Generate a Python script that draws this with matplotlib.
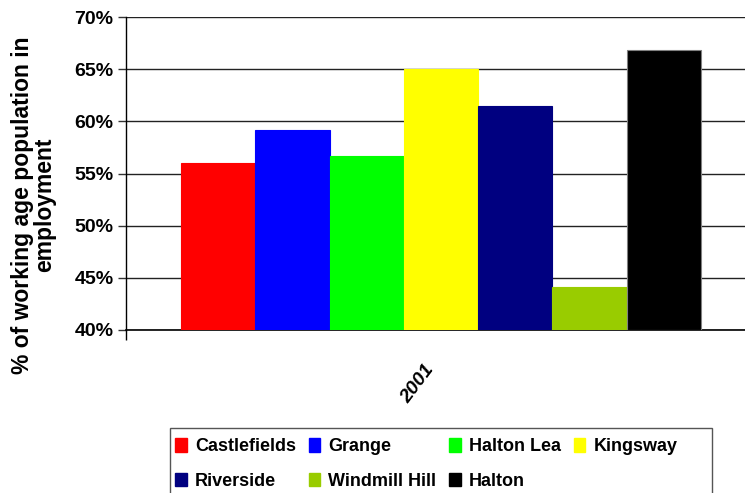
import matplotlib.pyplot as plt
from matplotlib.patches import Rectangle, Patch

plt.rcParams['font.family'] = ['Liberation Sans', 'DejaVu Sans']
plt.rcParams['font.weight'] = 'bold'

# data
year = "2001"
areas = ["Castlefields", "Grange", "Halton Lea", "Kingsway",
         "Riverside", "Windmill Hill", "Halton"]
employment = [56.0, 59.2, 56.7, 65.0, 61.5, 44.1, 66.8]
colors = ["#FF0000", "#0000FF", "#00FF00", "#FFFF00",
          "#000080", "#99CC00", "#000000"]
yticks = [40, 45, 50, 55, 60, 65, 70]

W, H = 745, 493
fig = plt.figure(figsize=(W / 100, H / 100), dpi=100)
ax = fig.add_axes([126 / W, 1 - 330 / H, 630 / W, 313 / H])

# bars, one per area, side by side in a single year group
for i, (name, val, c) in enumerate(zip(areas, employment, colors)):
    ec = "#808080" if c == "#000000" else c
    ax.bar(i, val - 40, bottom=40, width=1.0, align='edge', color=c,
           edgecolor=ec, linewidth=0.8, label=name, zorder=3)

ax.set_ylim(40, 70)
ax.set_xlim(-0.74, 7.74)
ax.set_yticks(yticks)
ax.set_yticklabels([f"{t}%" for t in yticks], fontsize=14, fontweight='bold')
ax.yaxis.grid(True, color='#222222', linewidth=1.0, zorder=0)
ax.tick_params(axis='y', length=6, width=1, color='#333333', pad=3)

# category boundary ticks
ax.set_xticks([-0.74, 7.74])
ax.set_xticklabels([])
ax.tick_params(axis='x', which='major', length=7, width=1, direction='out')

# year label under the group
ax.annotate(year, xy=(len(areas) / 2, 0), xycoords=('data', 'axes fraction'),
            xytext=(-17, -39), textcoords='offset points', rotation=53,
            ha='center', va='center', fontsize=14, fontweight='bold',
            fontstyle='italic')

for s in ['top', 'right']:
    ax.spines[s].set_visible(False)
ax.spines['left'].set_linewidth(1.0)
ax.spines['bottom'].set_linewidth(1.2)

fig.text(34 / W, 1 - 205 / H, "% of working age population in\nemployment",
         rotation=90, ha='center', va='center', multialignment='center',
         fontsize=16.5, fontweight='bold', linespacing=0.95)

# legend, filled row by row like the original
order = [0, 4, 1, 5, 2, 6, 3]
handles = [Patch(facecolor=colors[i], edgecolor=colors[i]) for i in order]
labels = [areas[i] for i in order]
fig.legend(handles, labels, loc='upper left',
           bbox_to_anchor=(175 / W, 1 - 438 / H), ncol=4, frameon=False,
           handlelength=0.66, handleheight=0.78,
           handletextpad=0.44, columnspacing=0.7, labelspacing=0.98,
           borderpad=0, borderaxespad=0, prop={'weight': 'bold', 'size': 13})
fig.patches.append(Rectangle((170 / W, -0.05), (712 - 170) / W,
                             1 - 428 / H + 0.05, transform=fig.transFigure,
                             fill=False, edgecolor='#555555', linewidth=1.0))

fig.savefig("out.png", dpi=100)
